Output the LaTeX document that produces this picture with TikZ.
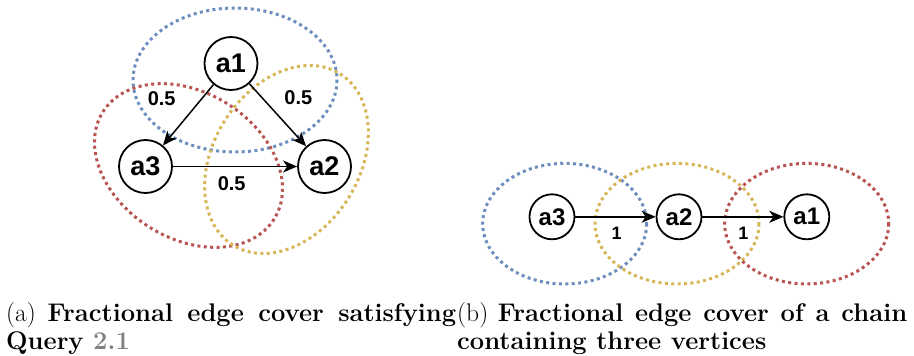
\documentclass[tikz,border=0pt]{standalone}
\usepackage{fontspec}
\usetikzlibrary{arrows.meta}
\newfontfamily\graphfont{Liberation Sans}
\definecolor{coverblue}{HTML}{6C8EBF}
\definecolor{coverred}{HTML}{B85450}
\definecolor{coveryellow}{HTML}{D6B656}
\tolerance=10000
\hyphenpenalty=10000
\tikzset{
  vertex/.style={draw,circle,line width=1.8pt,inner sep=0pt,font=\graphfont\bfseries\fontsize{27}{27}\selectfont},
  smallvertex/.style={vertex,minimum size=45pt,font=\graphfont\bfseries\fontsize{24}{24}\selectfont},
  wlabel/.style={inner sep=0pt,font=\graphfont\bfseries\fontsize{20}{20}\selectfont},
  cover/.style={line width=3pt,dash pattern=on 3pt off 3.4pt},
  flow/.style={->,>={Stealth[length=14pt,width=12pt,inset=4pt]},line width=1.5pt},
  subcap/.style={anchor=north west,inner sep=0pt,text width=450pt,align=justify,
    font=\fontsize{25.5}{28}\selectfont}
}
\begin{document}
\begin{tikzpicture}[x=1pt,y=-1pt]
\useasboundingbox (0,0) rectangle (914,356);
\draw[cover,coverblue] (235,80) ellipse [x radius=102,y radius=72];
\draw[cover,coverred] (188.5,165.5) ellipse [x radius=101,y radius=73,rotate=-32];
\draw[cover,coveryellow] (286.5,159.5) ellipse [x radius=101,y radius=73,rotate=58];
\node[vertex,minimum size=53pt] (a1) at (231,63.5) {a1};
\node[vertex,minimum size=53pt] (a3) at (145.5,166.5) {a3};
\node[vertex,minimum size=53pt] (a2) at (324.5,166.5) {a2};
\draw[flow] (a1) -- (a3);
\draw[flow] (a1) -- (a2);
\draw[flow] (a3) -- (a2);
\node[wlabel] (w13) at (161.7,98.3) {0.5};
\node[wlabel] (w12) at (298.3,97.7) {0.5};
\node[wlabel] (w32) at (231.7,183.7) {0.5};
\draw[cover,coverblue] (564.7,223.7) ellipse [x radius=82,y radius=60.3];
\draw[cover,coveryellow] (677,223.7) ellipse [x radius=82,y radius=60.3];
\draw[cover,coverred] (806.7,223.7) ellipse [x radius=82,y radius=60.3];
\node[smallvertex] (b3) at (552,216.8) {a3};
\node[smallvertex] (b2) at (679,216.8) {a2};
\node[smallvertex] (b1) at (806.8,216.8) {a1};
\draw[flow] (b3) -- (b2);
\draw[flow] (b2) -- (b1);
\node[wlabel,font=\graphfont\bfseries\fontsize{18}{18}\selectfont] (v32) at (616.7,233.3) {1};
\node[wlabel,font=\graphfont\bfseries\fontsize{18}{18}\selectfont] (v21) at (743.3,233.3) {1};
\node[subcap] (capa) at (6,302) {(a) \textbf{Fractional edge cover satisfying Query \textcolor{gray}{2.1}}};
\node[subcap] (capb) at (457,302) {(b) \textbf{Fractional edge cover of a chain containing three vertices}};
\end{tikzpicture}
\end{document}
